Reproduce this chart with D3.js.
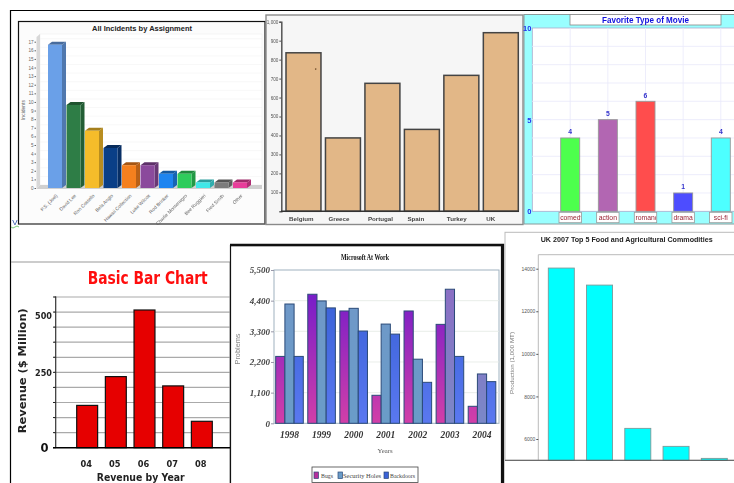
<!DOCTYPE html>
<html><head><meta charset="utf-8">
<script src="https://cdn.jsdelivr.net/npm/d3@7"></script>
<style>
html,body{margin:0;padding:0;background:#fff;overflow:hidden}
svg{display:block;filter:blur(0.45px)}
text{font-family:"Liberation Sans",Arial,sans-serif}
</style></head><body>
<svg id="c" width="734" height="483"></svg>
<script>
// Panel 1
const incidentNames = ["P.S. (Joel)","David Lee","Ron Costello","Bela Anglo","Hawaii Collection","Luke Wilcox","Rod Brinker","Charlie Montenegro","Bee Ruggieri","Fred Smith","Other"];
const incidentValues = [17,10,7,5,3,3,2,2,1,1,1];
const incidentColors = ["#6aa0e8","#2e7d46","#f5bc2a","#0a3f87","#f5801e","#8b4a9c","#1e85f0","#2ecc5c","#40e8e8","#7c7c7c","#e83d9a"];
// Panel 2
const countries = ["Belgium","Greece","Portugal","Spain","Turkey","UK"];
const countryValues = [836,387,675,432,717,942];
// Panel 3
const movieTypes = ["comedy","action","romance","drama","sci-fi"];
const movieValues = [4,5,6,1,4];
const movieColors = ["#4dff4d","#b266b2","#ff4d4d","#4d4dff","#4dffff"];
// Panel 4
const revenueYears = ["04","05","06","07","08"];
const revenueValues = [141,237,525,206,88];
const revenueTicks = [0,250,500];
// Panel 5
const msYears = ["1998","1999","2000","2001","2002","2003","2004"];
const msSeries = ["Bugs","Security Holes","Backdoors"];
const msBugs = [2400,4630,4030,1005,4030,3550,610];
const msSecurity = [4280,4390,4125,3560,2300,4810,1770];
const msBackdoors = [2400,4140,3310,3200,1470,2400,1495];
const msTicks = [0,1100,2200,3300,4400,5500];
// Panel 6
const commodityIndex = ["a","b","c","d","e"];
const commodityValues = [14030,13230,6500,5655,5090];
const commodityTicks = [6000,8000,10000,12000,14000];

const svg = d3.select("#c");
const defs = svg.append("defs");
const box = (g,x,y,w,h,fill,stroke,sw)=>g.append("rect").attr("x",x).attr("y",y).attr("width",w).attr("height",h).attr("fill",fill).attr("stroke",stroke).attr("stroke-width",sw);
const txt = (g,x,y,s,size,fill,opts={})=>{
  const t=g.append("text").attr("x",x).attr("y",y).text(s).attr("font-size",size).attr("fill",fill)
    .attr("text-anchor",opts.anchor||"middle").attr("font-weight",opts.weight||"normal");
  if(opts.family)t.style("font-family",opts.family);
  if(opts.italic)t.attr("font-style","italic");
  if(opts.len)t.attr("textLength",opts.len).attr("lengthAdjust","spacingAndGlyphs");
  if(opts.rot!==undefined)t.attr("transform",`rotate(${opts.rot} ${x} ${y})`);
  return t;
};
const styleAxis=(g,color,size,weight,family)=>{
  g.selectAll("text").attr("font-size",size).attr("fill",color).attr("font-weight",weight||"normal");
  if(family)g.selectAll("text").style("font-family",family);
  g.selectAll(".tick line").attr("stroke",color);
  g.select(".domain").attr("stroke",color);
};

// outer page frame
svg.append("path").attr("d","M10.5 483V10.5H734").attr("fill","none").attr("stroke","#000").attr("stroke-width",1.2);

// ---------- Panel 1
(function(){
  const g=svg.append("g");
  box(g,18.5,21.5,246.5,202.5,"#fcfcfc","#111",1.2);
  g.append("line").attr("x1",19).attr("x2",265).attr("y1",224).attr("y2",224).attr("stroke","#888").attr("stroke-width",1.2);
  const y=d3.scaleLinear().domain([0,17]).range([188,41.7]);
  const x=d3.scaleBand().domain(incidentNames).range([48,247]).paddingInner(0.243);
  box(g,40,34,222,151,"#fff","#eee",0.6);
  g.selectAll(".gh").data(d3.range(1,18)).join("line").attr("x1",40).attr("x2",262).attr("y1",d=>y(d)-3).attr("y2",d=>y(d)-3).attr("stroke","#f1f1f1").attr("stroke-width",.5);
  g.append("path").attr("d","M36.5 189V37L40 34V185Z").attr("fill","#d8d8d8");
  g.append("path").attr("d","M36.5 189L40 185H262V189Z").attr("fill","#d0d0d0");
  const ax=g.append("g").attr("transform","translate(36,0)").call(d3.axisLeft(y).tickValues(d3.range(0,18)).tickSize(1.5).tickPadding(1));
  styleAxis(ax,"#666",4.6); ax.select(".domain").remove();
  txt(g,25,110,"Incidents",5,"#666",{rot:-90});
  txt(g,142,31,"All Incidents by Assignment",8,"#222",{weight:"bold",len:100});
  const dx=4,dy=3;
  const bars=g.selectAll(".b").data(incidentNames).join("g");
  const idx=d=>incidentNames.indexOf(d);
  bars.append("path").attr("d",d=>{const X=x(d)+x.bandwidth(),T=y(incidentValues[idx(d)])+dy;return `M${X} ${T}l${dx} ${-dy}V${y(0)-dy}l${-dx} ${dy}Z`;})
    .attr("fill",d=>d3.color(incidentColors[idx(d)]).darker(.8));
  bars.append("path").attr("d",d=>{const X=x(d),T=y(incidentValues[idx(d)])+dy;return `M${X} ${T}l${dx} ${-dy}h${x.bandwidth()}l${-dx} ${dy}Z`;})
    .attr("fill",d=>d3.color(incidentColors[idx(d)]).darker(1.1));
  bars.append("rect").attr("x",d=>x(d)).attr("y",d=>y(incidentValues[idx(d)])+dy).attr("width",x.bandwidth()).attr("height",d=>y(0)-y(incidentValues[idx(d)])-dy)
    .attr("fill",d=>incidentColors[idx(d)]);
  g.selectAll(".l").data(incidentNames).join("text").text(d=>d).attr("font-size",4.8).attr("fill","#666").attr("text-anchor","end")
    .attr("transform",d=>`translate(${x(d)+x.bandwidth()/2+3},196) rotate(-45)`);
  txt(g,15,225,"V",8,"#2a4fa8",{});
  g.append("path").attr("d","M11 227q2 2 4 0t4 0").attr("fill","none").attr("stroke","#5bbf5b").attr("stroke-width",.8);
})();

// ---------- Panel 2
(function(){
  const g=svg.append("g");
  box(g,266,15,257,209.5,"#f6f6f6","#8a8a8a",1.4);
  const y=d3.scaleLinear().domain([0,1000]).range([211.3,21.7]);
  const x=d3.scaleBand().domain(countries).range([286,518.3]).paddingInner(0.114);
  g.selectAll(".b").data(countries).join("rect").attr("x",d=>x(d)).attr("width",x.bandwidth())
    .attr("y",(d,i)=>y(countryValues[i])).attr("height",(d,i)=>y(0)-y(countryValues[i]))
    .attr("fill","#e2b787").attr("stroke","#444").attr("stroke-width",1.5);
  const ax=g.append("g").attr("transform","translate(281.3,0)").call(d3.axisLeft(y).tickValues(d3.range(100,1001,100)).tickSize(2).tickPadding(1));
  styleAxis(ax,"#555",4.6);
  ax.select(".domain").attr("stroke-width",1.5);
  g.append("line").attr("x1",281).attr("x2",519).attr("y1",y(0)).attr("y2",y(0)).attr("stroke","#333").attr("stroke-width",1.5);
  g.selectAll(".l").data(countries).join("text").text(d=>d).attr("x",d=>x(d)+3).attr("y",220.5)
    .attr("font-size",6.2).attr("font-weight","bold").attr("fill","#444");
  g.append("circle").attr("cx",x("Belgium")+29.7).attr("cy",y(750)).attr("r",.8).attr("fill","#6b4a2a");
})();

// ---------- Panel 3
(function(){
  const g=svg.append("g");
  box(g,524,14.5,212,209.5,"#99ffff","#8a9a9a",1);
  const y=d3.scaleLinear().domain([0,10]).range([211.3,28]);
  const x=d3.scaleBand().domain(movieTypes).range([560.7,730.3]).paddingInner(0.495);
  box(g,532.3,28,204,183.3,"#fff","#aaaacc",.8);
  g.selectAll(".gh").data(d3.range(1,10)).join("line").attr("x1",532).attr("x2",734).attr("y1",d=>y(d)).attr("y2",d=>y(d)).attr("stroke","#e8e8fa").attr("stroke-width",.8);
  g.selectAll(".gv").data(movieTypes).join("line").attr("y1",28).attr("y2",211).attr("x1",d=>x(d)+x.bandwidth()/2).attr("x2",d=>x(d)+x.bandwidth()/2).attr("stroke","#e8e8fa").attr("stroke-width",.8);
  box(g,570,14.5,151,10.5,"#fff","#888",.8);
  txt(g,645.5,23.2,"Favorite Type of Movie",9.6,"#1111dd",{weight:"bold",len:87});
  g.selectAll(".b").data(movieTypes).join("rect").attr("x",d=>x(d)).attr("width",x.bandwidth())
    .attr("y",(d,i)=>y(movieValues[i])).attr("height",(d,i)=>y(0)-y(movieValues[i]))
    .attr("fill",(d,i)=>movieColors[i]).attr("stroke","#999").attr("stroke-width",.9);
  g.selectAll(".v").data(movieTypes).join("text").text((d,i)=>movieValues[i]).attr("x",d=>x(d)+x.bandwidth()/2).attr("y",(d,i)=>y(movieValues[i])-3.5)
    .attr("text-anchor","middle").attr("font-size",6.8).attr("font-weight","bold").attr("fill","#3333cc");
  const ax=g.append("g").attr("transform","translate(532.3,0)").call(d3.axisLeft(y).tickValues([0,5,10]).tickSize(0).tickPadding(1));
  styleAxis(ax,"#2233ee",7.5,"bold"); ax.select(".domain").remove();
  const lab=g.selectAll(".lab").data(movieTypes).join("g");
  movieTypes.forEach(d=>defs.append("clipPath").attr("id","cp-"+d.replace("-","")).append("rect").attr("x",x(d)-1).attr("y",212).attr("width",x.bandwidth()+2).attr("height",11));
  lab.append("rect").attr("x",d=>x(d)-1.7).attr("y",212.3).attr("width",x.bandwidth()+3.4).attr("height",10.4).attr("fill","#fff").attr("stroke","#999").attr("stroke-width",.8);
  lab.append("text").text(d=>d).attr("y",220).attr("font-size",6.8).attr("fill","#992233").attr("clip-path",d=>`url(#cp-${d.replace("-","")})`)
    .attr("x",function(d){const c=x(d)+x.bandwidth()/2;return Math.max(x(d)-0.5,c-this.getComputedTextLength()/2);});
})();

// ---------- Panel 4
(function(){
  const g=svg.append("g");
  g.append("path").attr("d","M11 262H230V483").attr("fill","none").attr("stroke","#999").attr("stroke-width",1);
  const grid=d3.scaleLinear().domain([0,10]).range([447.7,297]);
  const y=d3.scaleLinear().domain(revenueTicks).range([447.7,372.7,315.7]);
  const x=d3.scaleBand().domain(revenueYears).range([76.7,212.3]).paddingInner(0.27);
  g.selectAll(".gh").data(d3.range(1,11)).join("line").attr("x1",54).attr("x2",230).attr("y1",d=>grid(d)).attr("y2",d=>grid(d)).attr("stroke","#aaa").attr("stroke-width",1.2);
  g.selectAll(".tk").data(d3.range(0,11)).join("line").attr("x1",53).attr("x2",56).attr("y1",d=>grid(d)).attr("y2",d=>grid(d)).attr("stroke","#222");
  g.selectAll(".b").data(revenueYears).join("rect").attr("x",d=>x(d)).attr("width",x.bandwidth())
    .attr("y",(d,i)=>y(revenueValues[i])).attr("height",(d,i)=>y(0)-y(revenueValues[i]))
    .attr("fill","#e60000").attr("stroke","#111").attr("stroke-width",1.2);
  g.append("line").attr("x1",55.7).attr("x2",55.7).attr("y1",296.5).attr("y2",448).attr("stroke","#333").attr("stroke-width",1.2);
  g.append("line").attr("x1",53).attr("x2",230).attr("y1",447.7).attr("y2",447.7).attr("stroke","#000").attr("stroke-width",1.6);
  const ax=g.append("g").attr("transform","translate(53,0)").call(d3.axisLeft(y).tickValues(revenueTicks.slice(1)).tickSize(0).tickPadding(1));
  styleAxis(ax,"#222",9,"bold","'DejaVu Sans Condensed','DejaVu Sans'"); ax.select(".domain").remove();
  txt(g,44.5,451.5,"0",11.5,"#111",{weight:"bold",family:"'DejaVu Sans'"});
  g.selectAll(".l").data(revenueYears).join("text").text(d=>d).attr("x",d=>x(d)+x.bandwidth()/2-1).attr("y",466.5).attr("text-anchor","middle")
    .attr("font-size",9.2).attr("font-weight","bold").attr("fill","#222").style("font-family","'DejaVu Sans Condensed','DejaVu Sans'");
  txt(g,147.7,284,"Basic Bar Chart",18.5,"#ff0d0d",{weight:"bold",len:120,family:"'Liberation Sans Narrow','DejaVu Sans Condensed'"});
  txt(g,140.7,480.5,"Revenue by Year",10.5,"#222",{weight:"bold",len:88,family:"'DejaVu Sans'"});
  txt(g,26,370.7,"Revenue ($ Million)",11,"#222",{weight:"bold",len:125,rot:-90,family:"'DejaVu Sans'"});
})();

// ---------- Panel 5
(function(){
  const serif="'Liberation Serif',serif";
  const g=svg.append("g");
  box(g,230.5,245.5,271,240,"#fff","#111",1.2);
  g.append("path").attr("d","M230 245H503V483").attr("fill","none").attr("stroke","#111").attr("stroke-width",2.4);
  const y=d3.scaleLinear().domain([0,5500]).range([423.3,270]);
  const x0=d3.scaleBand().domain(msYears).range([275.7,495.8]).paddingInner(0.14);
  const x1=d3.scaleBand().domain(msSeries).range([0,x0.bandwidth()]);
  const grad=(id,a,b)=>{const l=defs.append("linearGradient").attr("id",id).attr("gradientUnits","userSpaceOnUse").attr("x1",0).attr("x2",0).attr("y1",y(4500)).attr("y2",y(0));
    l.append("stop").attr("offset",0).attr("stop-color",a);l.append("stop").attr("offset",1).attr("stop-color",b);};
  grad("gBugs","#7a1ec8","#d23fa8");grad("gSec","#6f98c8","#6a9cc8");grad("gBack","#3a62d8","#5a78f0");grad("gSecAlt","#8a70c4","#7a88c8");
  box(g,274,270,225,153.3,"#fff","#9fb2c0",1);
  g.selectAll(".gh").data(msTicks.slice(1,-1)).join("line").attr("x1",274).attr("x2",499).attr("y1",d=>y(d)).attr("y2",d=>y(d)).attr("stroke","#e3e8e3").attr("stroke-width",.8);
  const series=[msBugs,msSecurity,msBackdoors], fills=["gBugs","gSec","gBack"];
  msSeries.forEach((s,k)=>{
    g.selectAll(".b"+k).data(msYears).join("rect").attr("x",d=>x0(d)+x1(s)).attr("width",x1.bandwidth())
      .attr("y",(d,i)=>y(series[k][i])).attr("height",(d,i)=>y(0)-y(series[k][i]))
      .attr("fill",(d,i)=>`url(#${k===1&&(d==="2003"||d==="2004")?"gSecAlt":fills[k]})`).attr("stroke","#2b4a78").attr("stroke-width",1);
  });
  const ax=g.append("g").attr("transform","translate(274,0)").call(d3.axisLeft(y).tickValues(msTicks).tickSize(3).tickPadding(1).tickFormat(d3.format(",")));
  styleAxis(ax,"#444",9,"bold",serif); ax.selectAll("text").attr("font-style","italic"); ax.select(".domain").remove();
  ax.selectAll(".tick line").attr("stroke","#99a");
  g.selectAll(".l").data(msYears).join("text").text(d=>d).attr("x",d=>x0(d)+x0.bandwidth()/2).attr("y",438).attr("text-anchor","middle")
    .attr("font-size",9.5).attr("font-weight","bold").attr("font-style","italic").attr("fill","#333").style("font-family",serif);
  txt(g,365,259.5,"Microsoft At Work",7.5,"#111",{weight:"bold",family:serif,len:48});
  txt(g,385,452.5,"Years",6.8,"#555",{family:serif,len:15});
  txt(g,239.5,349,"Problems",7.5,"#888",{rot:-90,len:31});
  box(g,312,467,106,15.5,"#fff","#444",.8);
  const keyX=[314,338,384];
  const legendKeyColors=["#b52f9c","#6a9cc8","#3a62d8"];
  const textX=[321,343,390];
  const textLen=[12,38,25];
  msSeries.forEach((s,i)=>{
    box(g,keyX[i],472,4.5,6.5,legendKeyColors[i],"#2b4a78",.7);
    txt(g,textX[i],478,s,7,"#444",{anchor:"start",family:serif,len:textLen[i]});
  });
})();

// ---------- Panel 6
(function(){
  const g=svg.append("g");
  box(g,505,232.3,230,228,"#fff","#bbb",1);
  const y=d3.scaleLinear().domain([5000,14000]).range([460.3,268.7]);
  const x=d3.scaleBand().domain(commodityIndex).range([548.3,727.3]).paddingInner(0.32);
  g.append("path").attr("d","M538.3 460V254.7H734").attr("fill","none").attr("stroke","#bbb").attr("stroke-width",1);
  g.selectAll(".b").data(commodityIndex).join("rect").attr("x",d=>x(d)).attr("width",x.bandwidth())
    .attr("y",(d,i)=>y(commodityValues[i])).attr("height",(d,i)=>y(5000)-y(commodityValues[i]))
    .attr("fill","#00ffff").attr("stroke","#7a9a9a").attr("stroke-width",.9);
  const ax=g.append("g").attr("transform","translate(538.3,0)").call(d3.axisLeft(y).tickValues(commodityTicks).tickSize(2).tickPadding(1).tickFormat(d3.format("d")));
  styleAxis(ax,"#555",5); ax.select(".domain").remove();
  g.append("line").attr("x1",505).attr("x2",734).attr("y1",460.3).attr("y2",460.3).attr("stroke","#555").attr("stroke-width",1);
  txt(g,626.7,242,"UK 2007 Top 5 Food and Agricultural Commodities",6.6,"#222",{weight:"bold",len:172});
  txt(g,514,363,"Production (1,000 MT)",6,"#777",{rot:-90,len:62});
})();
</script>
</body></html>
